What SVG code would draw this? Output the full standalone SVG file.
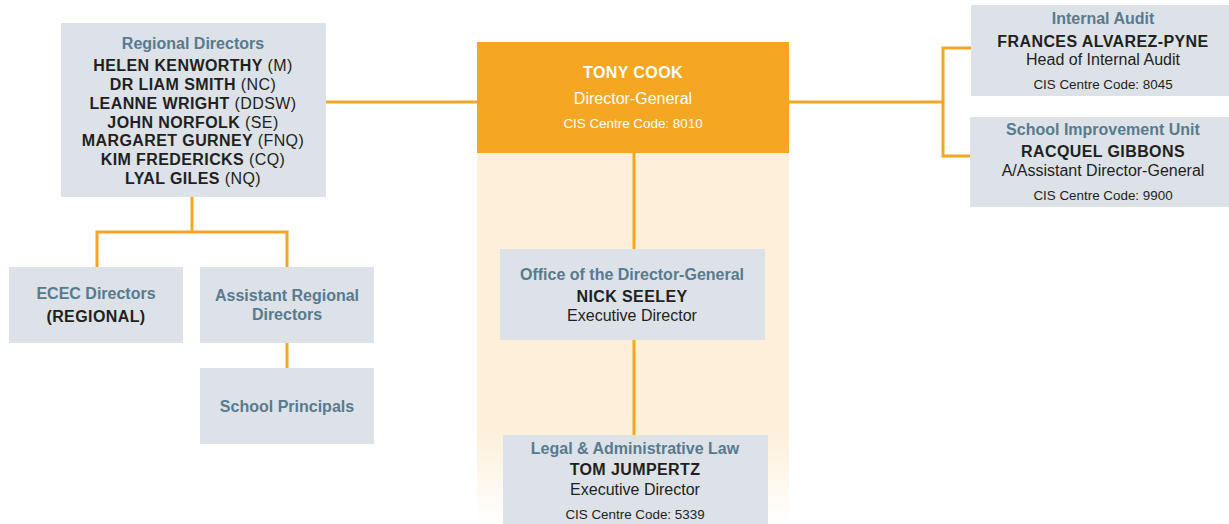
<svg xmlns="http://www.w3.org/2000/svg" width="1229" height="524" viewBox="0 0 1229 524">
<style>
text{font-family:"Liberation Sans",Arial,sans-serif;text-anchor:middle;}
.box{fill:#DCE2E7;}
.t{fill:#587A8F;font-weight:bold;font-size:16px;}
.n{fill:#231F20;font-weight:bold;font-size:16px;letter-spacing:0.4px;}
.r{fill:#231F20;font-size:16px;}
.c{fill:#231F20;font-size:13.4px;}
.reg{font-weight:normal;}
.w{fill:#FFFFFF;}
.ln{stroke:#F5A623;stroke-width:3;fill:none;}
</style>
<defs>
<linearGradient id="band" x1="0" y1="0" x2="0" y2="1">
<stop offset="0" stop-color="#FDEFD9"/>
<stop offset="0.74" stop-color="#FDEFD9"/>
<stop offset="1" stop-color="#FFFFFF"/>
</linearGradient>
</defs>
<rect x="477" y="150" width="312" height="374" fill="url(#band)"/>
<g id="connectors">
<line class="ln" x1="326" y1="102" x2="477" y2="102"/>
<polyline class="ln" points="789,102 943,102"/>
<polyline class="ln" points="971,48 943,48 943,156 970,156"/>
<line class="ln" x1="192" y1="197" x2="192" y2="232"/>
<polyline class="ln" points="97,267 97,232 287,232 287,267"/>
<line class="ln" x1="287" y1="343" x2="287" y2="368"/>
<line class="ln" x1="634" y1="153" x2="634" y2="249"/>
<line class="ln" x1="634" y1="340" x2="634" y2="435"/>
</g>
<g id="tony-cook">
<rect x="477" y="42" width="312" height="111" fill="#F5A623"/>
<text class="n w" x="633" y="78">TONY COOK</text>
<text class="r w" x="633" y="104">Director-General</text>
<text class="c w" x="633" y="128">CIS Centre Code: 8010</text>
</g>
<g id="regional-directors">
<rect class="box" x="61" y="23" width="265" height="174"/>
<text class="t" x="193" y="49">Regional Directors</text>
<text class="n" x="193" y="71">HELEN KENWORTHY <tspan class="reg">(M)</tspan></text>
<text class="n" x="193" y="90">DR LIAM SMITH <tspan class="reg">(NC)</tspan></text>
<text class="n" x="193" y="109">LEANNE WRIGHT <tspan class="reg">(DDSW)</tspan></text>
<text class="n" x="193" y="128">JOHN NORFOLK <tspan class="reg">(SE)</tspan></text>
<text class="n" x="193" y="146">MARGARET GURNEY <tspan class="reg">(FNQ)</tspan></text>
<text class="n" x="193" y="165">KIM FREDERICKS <tspan class="reg">(CQ)</tspan></text>
<text class="n" x="193" y="184">LYAL GILES <tspan class="reg">(NQ)</tspan></text>
</g>
<g id="ecec-directors">
<rect class="box" x="9" y="267" width="174" height="76"/>
<text class="t" x="96" y="299">ECEC Directors</text>
<text class="n" x="96" y="322">(REGIONAL)</text>
</g>
<g id="assistant-regional-directors">
<rect class="box" x="200" y="267" width="174" height="76"/>
<text class="t" x="287" y="301">Assistant Regional</text>
<text class="t" x="287" y="320">Directors</text>
</g>
<g id="school-principals">
<rect class="box" x="200" y="368" width="174" height="76"/>
<text class="t" x="287" y="412">School Principals</text>
</g>
<g id="internal-audit">
<rect class="box" x="971" y="5" width="258" height="91"/>
<text class="t" x="1103" y="24">Internal Audit</text>
<text class="n" x="1103" y="47">FRANCES ALVAREZ-PYNE</text>
<text class="r" x="1103" y="65">Head of Internal Audit</text>
<text class="c" x="1103" y="89">CIS Centre Code: 8045</text>
</g>
<g id="school-improvement-unit">
<rect class="box" x="970" y="117" width="259" height="90"/>
<text class="t" x="1103" y="135">School Improvement Unit</text>
<text class="n" x="1103" y="157">RACQUEL GIBBONS</text>
<text class="r" x="1103" y="176">A/Assistant Director-General</text>
<text class="c" x="1103" y="200">CIS Centre Code: 9900</text>
</g>
<g id="office-of-dg">
<rect class="box" x="500" y="249" width="265" height="91"/>
<text class="t" x="632" y="280">Office of the Director-General</text>
<text class="n" x="632" y="302">NICK SEELEY</text>
<text class="r" x="632" y="321">Executive Director</text>
</g>
<g id="legal-administrative-law">
<rect class="box" x="503" y="435" width="265" height="89"/>
<text class="t" x="635" y="454">Legal &amp; Administrative Law</text>
<text class="n" x="635" y="475">TOM JUMPERTZ</text>
<text class="r" x="635" y="495">Executive Director</text>
<text class="c" x="635" y="519">CIS Centre Code: 5339</text>
</g>
</svg>
